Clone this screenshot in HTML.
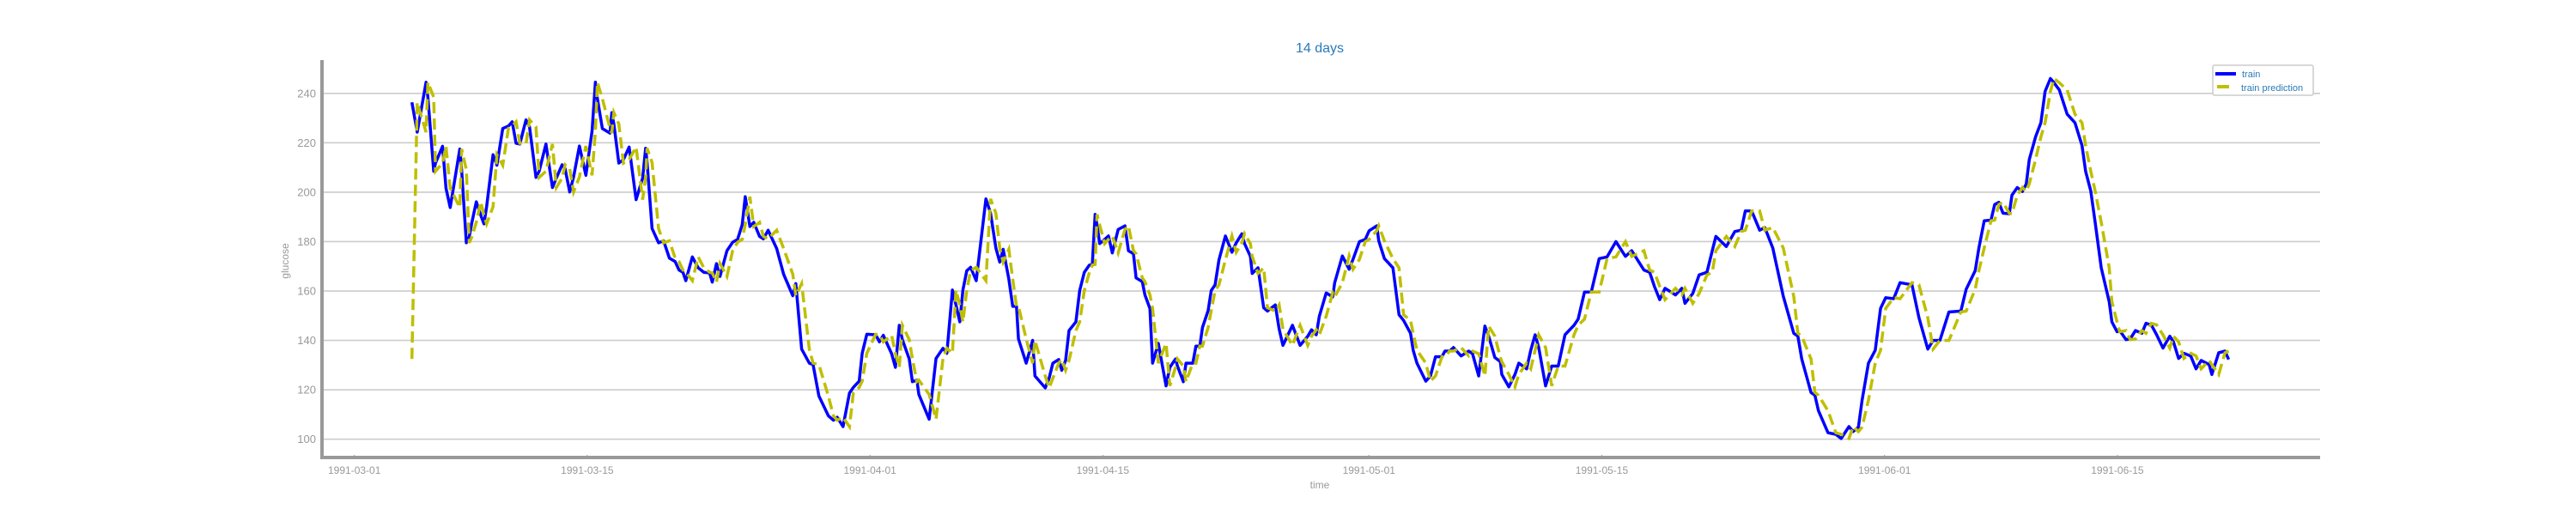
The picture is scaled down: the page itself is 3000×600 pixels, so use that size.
<!DOCTYPE html>
<html><head><meta charset="utf-8"><title>14 days</title>
<style>
html,body{margin:0;padding:0;background:#fff;}
svg{display:block;font-family:"Liberation Sans","DejaVu Sans",sans-serif;}
</style></head>
<body>
<svg id="chart" width="3000" height="600" viewBox="0 0 3000 600" xmlns="http://www.w3.org/2000/svg">
<text x="1537" y="61" text-anchor="middle" font-size="16" fill="#2a7ab8">14 days</text>
<g id="grid"></g>
<g id="yticks"></g>
<g id="xticks"></g>
<g id="series"></g>
<line x1="375" y1="70" x2="375" y2="535" stroke="#999" stroke-width="4"/>
<line x1="373" y1="533" x2="2702" y2="533" stroke="#999" stroke-width="4"/>
<text x="336" y="304" transform="rotate(-90 336 304)" text-anchor="middle" font-size="12" fill="#999">glucose</text>
<text x="1537" y="569" text-anchor="middle" font-size="12" fill="#999">time</text>
<g>
<rect x="2577" y="76" width="117" height="35" rx="2" fill="#fff" stroke="#ccc" stroke-width="1.5"/>
<line x1="2580" y1="86" x2="2604" y2="86" stroke="#0000ff" stroke-width="4"/>
<text x="2611" y="90" font-size="11" fill="#2a7ab8">train</text>
<line x1="2582" y1="101" x2="2596" y2="101" stroke="#bfbf00" stroke-width="4"/>
<text x="2610" y="106" font-size="11" fill="#2a7ab8">train prediction</text>
</g>
</svg>
<script>
const yTickValues = [100,120,140,160,180,200,220,240];
const xTickLabels = ["1991-03-01","1991-03-15","1991-04-01","1991-04-15","1991-05-01","1991-05-15","1991-06-01","1991-06-15"];
const xTickDays = [0,14,31,45,61,75,92,106];
const days = [3.46,3.78,4.31,4.42,4.77,4.88,5.30,5.51,5.76,6.34,6.45,6.73,6.91,7.07,7.33,7.60,7.79,7.95,8.34,8.57,8.92,9.26,9.49,9.72,9.95,10.32,10.53,10.92,11.11,11.52,11.91,12.14,12.49,12.67,12.95,13.18,13.53,13.92,14.29,14.49,14.61,14.91,15.37,15.48,15.60,15.90,16.18,16.52,16.94,17.33,17.51,17.60,17.90,18.29,18.59,18.94,19.29,19.52,19.75,19.93,20.32,20.67,21.01,21.36,21.52,21.77,21.98,22.40,22.74,23.04,23.32,23.50,23.78,24.01,24.36,24.59,24.88,25.39,25.81,26.36,26.54,26.89,27.35,27.58,27.93,28.50,28.80,29.03,29.38,29.77,30.00,30.35,30.53,30.81,31.34,31.57,31.80,32.30,32.53,32.76,32.95,
33.36,33.55,33.82,33.94,34.56,34.97,35.39,35.62,35.96,36.17,36.40,36.59,36.82,37.05,37.39,37.97,38.25,38.57,38.80,39.01,39.35,39.58,39.81,39.93,40.39,40.78,40.92,41.54,41.77,42.00,42.35,42.53,42.76,42.97,43.38,43.61,43.89,44.19,44.37,44.54,44.65,44.81,45.11,45.34,45.57,45.92,46.33,46.54,46.84,47.00,47.37,47.53,47.83,47.99,48.34,48.80,49.03,49.37,49.49,49.84,50.00,50.41,50.60,50.83,50.99,51.33,51.52,51.75,51.98,52.37,52.76,53.02,53.36,53.52,53.87,53.98,54.33,54.67,54.90,55.37,55.60,55.83,56.40,56.86,57.32,57.55,57.83,58.02,58.43,58.82,58.94,59.40,59.81,60.04,60.43,60.78,61.01,61.47,61.59,61.93,62.44,62.81,63.08,63.50,63.66,63.89,64.42,64.70,65.00,65.39,65.57,65.85,66.08,66.54,67.00,67.23,67.60,67.97,68.20,68.57,
68.90,68.99,69.41,69.78,70.01,70.48,70.73,70.99,71.21,71.62,71.99,72.38,72.79,73.33,73.58,73.96,74.37,74.84,75.32,75.85,76.42,76.80,77.53,77.88,78.16,78.48,78.80,79.43,79.81,80.00,80.47,80.85,81.32,81.64,81.86,82.49,83.00,83.38,83.63,84.01,84.49,84.80,85.28,85.91,86.54,86.79,87.02,87.58,87.81,88.03,88.60,89.07,89.39,89.86,90.11,90.43,90.65,91.03,91.44,91.76,92.07,92.55,92.93,93.65,94.07,94.60,94.92,95.33,95.87,96.59,96.91,97.45,97.67,97.99,98.40,98.62,98.87,99.12,99.50,99.66,99.98,100.29,100.52,100.70,101.08,101.40,101.65,101.97,102.19,102.51,102.98,103.45,103.87,104.09,104.40,104.66,105.03,105.51,105.67,105.98,106.14,106.52,106.77,107.09,107.47,107.72,108.04,108.36,108.74,109.15,109.37,109.68,110.00,110.41,110.73,111.04,111.52,111.68,112.09,112.47,112.69];
const trainValues = [236.4,224.3,244.5,238.5,208.5,211.8,218.6,201.6,193.8,217.5,209.1,179.5,182,187.8,196.1,190.7,187.2,194.1,215.2,210.9,225.8,226.8,228.5,219.8,219.5,229.3,226.4,206,208.5,219.5,201.9,205.7,211.1,209.5,200.1,206.2,218.7,206.8,224.7,244.5,237.9,225.8,223.9,232.2,227.6,211.8,213.2,218.3,197,205.7,217.8,212,185.3,179.5,180.3,173.3,171.9,168.5,167.6,164.2,173.8,169.4,167.6,167.3,163.6,171.1,165.9,176.3,179.7,180.9,186.9,198.2,186.1,187.8,182.1,181.1,184.6,177.2,166.8,158.1,163,136.5,130.8,130.2,117.5,109.5,107.7,108.9,105.1,118.7,121,123.5,134.8,142.5,142.3,139.4,142.1,134.6,129.1,146.1,140.3,
132.5,123.3,123.9,118.1,108.1,132.7,136.8,134.8,160.4,154.4,147.5,160.4,168.2,169.6,164.2,197.3,191.5,177.4,171.7,176.9,164.8,153.8,153.8,140.6,130.8,140,125.6,120.8,124.7,130.8,132.3,127.9,131.9,144,147.5,160.2,167.6,170.5,170.7,191,186.7,179.2,180.9,182.3,175.4,184.9,186.4,176.3,175.1,165.3,163.8,158.4,152.9,130.8,138.8,121.6,129.1,132.5,129.6,123.3,130.8,130.8,137.7,137.7,145.2,152.1,160.2,162.5,172.6,182.3,175.7,179.5,183.2,179.2,174,167.1,169.4,153.2,151.9,154.4,144.6,138,146.1,138,141.7,144.3,142.3,149.8,159.2,157.6,163.4,174.2,168.8,172.8,180,180.9,184.4,186.4,180.3,173.1,169.4,150.4,148.1,142.9,136,130.8,123.5,125.6,133.4,133.4,135.7,135.7,137.1,133.7,135.7,134.6,125.6,145.8,141.7,133.1,
131.4,126.2,121.2,126.2,130.8,128.5,136,142.3,137.1,121.6,129.6,129.6,142.3,146.1,148.6,159.6,159.6,173.1,173.8,180,174,176.3,168.5,167.6,161.9,156.5,161.1,158.4,161.1,155,159,166.5,167.6,176.3,182.1,178,184.1,184.6,192.4,192.4,184.6,185.7,177.4,157.9,142.9,141.7,132.5,118.9,117.8,111.5,102.6,102,100.3,105.1,103.1,104.9,115.8,130.8,136,153,157.3,156.9,163.4,162.5,149.2,136.5,140,140,151.5,151.9,160.7,168.2,177.4,188.4,188.7,195,195.9,191.5,191.3,198.8,201.9,200.3,203.4,213.2,222.4,228.1,240.8,246,244.3,241.4,231.6,228.1,218.9,208.5,200.5,187.8,169.4,155.6,147.5,143.5,144,140.3,140.6,144,142.9,146.9,146.3,142.3,136.9,141.7,139.4,132.7,134.8,133.7,128.5,131.9,130.2,126.2,135,135.7,132.3];
const predValues = [132.5,236.4,224.3,244.5,238.5,208.5,211.8,218.6,201.6,193.8,217.5,209.1,179.5,182,187.8,196.1,190.7,187.2,194.1,215.2,210.9,225.8,226.8,228.5,219.8,219.5,229.3,226.4,206,208.5,219.5,201.9,205.7,211.1,209.5,200.1,206.2,218.7,206.8,224.7,244.5,237.9,225.8,223.9,232.2,227.6,211.8,213.2,218.3,197,205.7,217.8,212,185.3,179.5,180.3,173.3,171.9,168.5,167.6,164.2,173.8,169.4,167.6,167.3,163.6,171.1,165.9,176.3,179.7,180.9,186.9,198.2,186.1,187.8,182.1,181.1,184.6,177.2,166.8,158.1,163,136.5,130.8,130.2,117.5,109.5,107.7,108.9,105.1,118.7,121,123.5,134.8,142.5,142.3,139.4,142.1,134.6,129.1,146.1,
140.3,132.5,123.3,123.9,118.1,108.1,132.7,136.8,134.8,160.4,154.4,147.5,160.4,168.2,169.6,164.2,197.3,191.5,177.4,171.7,176.9,164.8,153.8,153.8,140.6,130.8,140,125.6,120.8,124.7,130.8,132.3,127.9,131.9,144,147.5,160.2,167.6,170.5,170.7,191,186.7,179.2,180.9,182.3,175.4,184.9,186.4,176.3,175.1,165.3,163.8,158.4,152.9,130.8,138.8,121.6,129.1,132.5,129.6,123.3,130.8,130.8,137.7,137.7,145.2,152.1,160.2,162.5,172.6,182.3,175.7,179.5,183.2,179.2,174,167.1,169.4,153.2,151.9,154.4,144.6,138,146.1,138,141.7,144.3,142.3,149.8,159.2,157.6,163.4,174.2,168.8,172.8,180,180.9,184.4,186.4,180.3,173.1,169.4,150.4,148.1,142.9,136,130.8,123.5,125.6,133.4,133.4,135.7,135.7,137.1,133.7,135.7,134.6,125.6,145.8,141.7,
133.1,131.4,126.2,121.2,126.2,130.8,128.5,136,142.3,137.1,121.6,129.6,129.6,142.3,146.1,148.6,159.6,159.6,173.1,173.8,180,174,176.3,168.5,167.6,161.9,156.5,161.1,158.4,161.1,155,159,166.5,167.6,176.3,182.1,178,184.1,184.6,192.4,192.4,184.6,185.7,177.4,157.9,142.9,141.7,132.5,118.9,117.8,111.5,102.6,102,100.3,105.1,103.1,104.9,115.8,130.8,136,153,157.3,156.9,163.4,162.5,149.2,136.5,140,140,151.5,151.9,160.7,168.2,177.4,188.4,188.7,195,195.9,191.5,191.3,198.8,201.9,200.3,203.4,213.2,222.4,228.1,240.8,246,244.3,241.4,231.6,228.1,218.9,208.5,200.5,187.8,169.4,155.6,147.5,143.5,144,140.3,140.6,144,142.9,146.9,146.3,142.3,136.9,141.7,139.4,132.7,134.8,133.7,128.5,131.9,130.2,126.2,135,135.7];

const NS = "http://www.w3.org/2000/svg";
function xScale(d){ return 412.7 + d * 19.37; }
function yScale(v){ return 108.8 + (240 - v) * 2.878; }

const grid = document.getElementById('grid');
const yt = document.getElementById('yticks');
yTickValues.forEach(v => {
  const y = yScale(v);
  const gl = document.createElementNS(NS, 'line');
  
  
  gl.setAttribute('x1', 377); gl.setAttribute('x2', 2702);
  gl.setAttribute('y1', y); gl.setAttribute('y2', y);
  gl.setAttribute('stroke', '#cccccc'); gl.setAttribute('stroke-width', '1.6');
  grid.appendChild(gl);
  const t = document.createElementNS(NS, 'text');
  
  
  t.setAttribute('x', 368); t.setAttribute('y', y + 4.5);
  t.setAttribute('text-anchor', 'end'); t.setAttribute('font-size', '13');
  t.setAttribute('fill', '#999');
  t.textContent = v;
  yt.appendChild(t);
});
const xt = document.getElementById('xticks');
xTickDays.forEach((d, i) => {
  const x = xScale(d);
  const tk = document.createElementNS(NS, 'line');
  
  
  tk.setAttribute('x1', x); tk.setAttribute('x2', x);
  tk.setAttribute('y1', 530); tk.setAttribute('y2', 535);
  tk.setAttribute('stroke', '#999'); tk.setAttribute('stroke-width', '1');
  xt.appendChild(tk);
  const t = document.createElementNS(NS, 'text');
  
  
  t.setAttribute('x', x); t.setAttribute('y', 552);
  t.setAttribute('text-anchor', 'middle'); t.setAttribute('font-size', '12');
  t.setAttribute('fill', '#999');
  t.textContent = xTickLabels[i];
  xt.appendChild(t);
});

function pathFrom(vals){
  let s = '';
  for (let i = 0; i < vals.length && i < days.length; i++) {
    s += (i ? 'L' : 'M') + xScale(days[i]).toFixed(1) + ',' + yScale(vals[i]).toFixed(1);
  }
  return s;
}
const series = document.getElementById('series');
const trainPath = document.createElementNS(NS, 'path');


trainPath.setAttribute('d', pathFrom(trainValues));
trainPath.setAttribute('fill', 'none');
trainPath.setAttribute('stroke', '#0000ff');
trainPath.setAttribute('stroke-width', '3.5');
trainPath.setAttribute('stroke-linejoin', 'round');
series.appendChild(trainPath);
const predPath = document.createElementNS(NS, 'path');


predPath.setAttribute('d', pathFrom(predValues));
predPath.setAttribute('fill', 'none');
predPath.setAttribute('stroke', '#bfbf00');
predPath.setAttribute('stroke-width', '3.5');
predPath.setAttribute('stroke-dasharray', '13,6');
series.appendChild(predPath);
</script>
</body></html>
